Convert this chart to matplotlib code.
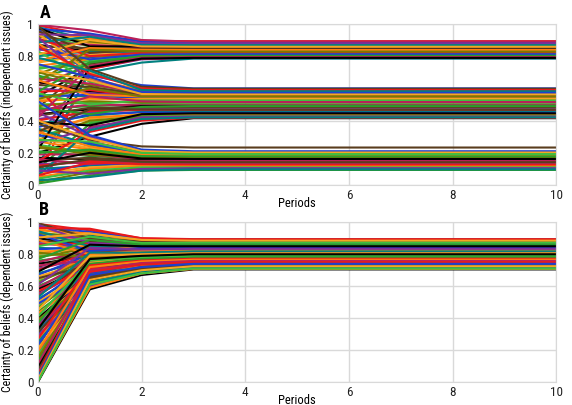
import matplotlib
matplotlib.use("Agg")
from matplotlib import pyplot as plt
import numpy as np

plt.rcParams['font.family'] = ['Roboto Condensed', 'Liberation Sans Narrow', 'Roboto', 'DejaVu Sans']

periods = list(range(11))

# panel A (independent issues): value at period 0, 1, 2 and the settled value from period 3 on
a_p0 = [0.99, 0.98, 0.97, 0.96, 0.95, 0.93, 0.92, 0.90, 0.89, 0.87, 0.86, 0.84, 0.82, 0.80, 0.78, 0.76,
        0.74, 0.72, 0.69, 0.66, 0.62, 0.55, 0.48, 0.30, 0.05, 0.12,
        0.97, 0.94, 0.88, 0.83, 0.70, 0.68, 0.66, 0.64, 0.62, 0.60, 0.58, 0.56, 0.55, 0.53, 0.52, 0.50,
        0.49, 0.47, 0.46, 0.44, 0.43, 0.41, 0.40, 0.38, 0.36, 0.34, 0.32, 0.30, 0.28, 0.10, 0.03, 0.20,
        0.38, 0.45, 0.60, 0.35, 0.31, 0.29, 0.27, 0.25, 0.23, 0.21, 0.19, 0.17, 0.15, 0.13, 0.12, 0.10,
        0.08, 0.07, 0.05, 0.04, 0.02, 0.01]
a_p1 = [0.93, 0.90, 0.94, 0.88, 0.91, 0.86, 0.89, 0.84, 0.87, 0.83, 0.85, 0.82, 0.80, 0.83, 0.79, 0.81,
        0.78, 0.77, 0.80, 0.76, 0.74, 0.73, 0.75, 0.72, 0.72, 0.70,
        0.68, 0.70, 0.66, 0.64, 0.62, 0.60, 0.63, 0.58, 0.61, 0.57, 0.59, 0.55, 0.56, 0.53, 0.54, 0.51,
        0.52, 0.49, 0.50, 0.47, 0.48, 0.45, 0.46, 0.43, 0.44, 0.41, 0.42, 0.39, 0.40, 0.38, 0.36, 0.30,
        0.28, 0.30, 0.27, 0.25, 0.26, 0.23, 0.22, 0.20, 0.21, 0.18, 0.19, 0.16, 0.17, 0.14, 0.15, 0.12,
        0.13, 0.11, 0.10, 0.09, 0.08, 0.06]
a_p2 = [0.895, 0.88, 0.89, 0.87, 0.875, 0.86, 0.865, 0.85, 0.855, 0.845, 0.84, 0.835, 0.83, 0.825, 0.82, 0.815,
        0.81, 0.805, 0.80, 0.80, 0.795, 0.79, 0.80, 0.78, 0.785, 0.76,
        0.62, 0.60, 0.59, 0.585, 0.58, 0.575, 0.57, 0.565, 0.56, 0.555, 0.55, 0.545, 0.54, 0.535, 0.53, 0.52,
        0.51, 0.50, 0.495, 0.49, 0.48, 0.47, 0.465, 0.455, 0.45, 0.44, 0.435, 0.43, 0.425, 0.42, 0.41, 0.38,
        0.24, 0.21, 0.205, 0.20, 0.195, 0.19, 0.185, 0.175, 0.17, 0.165, 0.16, 0.155, 0.15, 0.145, 0.14, 0.135,
        0.13, 0.125, 0.12, 0.11, 0.10, 0.09]
a_end = [0.893, 0.88, 0.886, 0.87, 0.875, 0.862, 0.866, 0.852, 0.857, 0.846, 0.84, 0.835, 0.83, 0.826, 0.82, 0.815,
         0.81, 0.805, 0.80, 0.798, 0.795, 0.79, 0.80, 0.787, 0.79, 0.785,
         0.60, 0.595, 0.59, 0.585, 0.58, 0.575, 0.57, 0.565, 0.56, 0.555, 0.55, 0.545, 0.54, 0.535, 0.528, 0.52,
         0.512, 0.50, 0.494, 0.487, 0.48, 0.47, 0.463, 0.455, 0.448, 0.44, 0.435, 0.43, 0.424, 0.42, 0.418, 0.415,
         0.233, 0.205, 0.20, 0.195, 0.19, 0.186, 0.18, 0.175, 0.17, 0.165, 0.16, 0.155, 0.15, 0.145, 0.14, 0.135,
         0.13, 0.125, 0.118, 0.11, 0.10, 0.094]

# more panel A lines (the crossing ones)
a2_p0 = [0.995, 0.975, 0.955, 0.935, 0.91, 0.885, 0.85, 0.81, 0.77, 0.73, 0.64, 0.58, 0.42, 0.22,
         0.985, 0.915, 0.86, 0.79, 0.75, 0.71, 0.65, 0.57, 0.535, 0.48, 0.45, 0.39, 0.33, 0.26, 0.15, 0.06,
         0.52, 0.40, 0.33, 0.28, 0.24, 0.20, 0.16, 0.14, 0.11, 0.09, 0.06, 0.03]
a2_p1 = [0.96, 0.86, 0.82, 0.93, 0.80, 0.92, 0.78, 0.90, 0.85, 0.74, 0.84, 0.76, 0.74, 0.73,
         0.72, 0.65, 0.69, 0.71, 0.67, 0.65, 0.56, 0.50, 0.60, 0.44, 0.55, 0.37, 0.47, 0.35, 0.33, 0.34,
         0.31, 0.29, 0.24, 0.27, 0.19, 0.22, 0.13, 0.20, 0.16, 0.07, 0.14, 0.05]
a2_p2 = [0.90, 0.86, 0.84, 0.88, 0.82, 0.87, 0.81, 0.86, 0.84, 0.79, 0.83, 0.80, 0.79, 0.785,
         0.61, 0.58, 0.60, 0.59, 0.575, 0.565, 0.55, 0.525, 0.55, 0.485, 0.52, 0.44, 0.47, 0.42, 0.40, 0.41,
         0.22, 0.21, 0.19, 0.20, 0.17, 0.18, 0.15, 0.165, 0.145, 0.10, 0.13, 0.09]
a2_end = [0.89, 0.86, 0.842, 0.878, 0.822, 0.868, 0.812, 0.858, 0.838, 0.792, 0.828, 0.802, 0.794, 0.789,
          0.598, 0.578, 0.59, 0.582, 0.572, 0.562, 0.548, 0.525, 0.55, 0.49, 0.515, 0.445, 0.468, 0.425, 0.418, 0.42,
          0.21, 0.202, 0.188, 0.192, 0.172, 0.178, 0.152, 0.162, 0.142, 0.105, 0.128, 0.098]

# panel B (dependent issues)
b_p0 = [0.99, 0.98, 0.97, 0.96, 0.95, 0.94, 0.93, 0.92, 0.91, 0.90, 0.88, 0.87, 0.86, 0.84, 0.83, 0.82,
        0.80, 0.79, 0.78, 0.76, 0.75, 0.74, 0.72, 0.71, 0.70, 0.68, 0.67, 0.66, 0.64, 0.63, 0.62, 0.60,
        0.59, 0.58, 0.56, 0.55, 0.54, 0.52, 0.51, 0.50, 0.48, 0.47, 0.46, 0.44, 0.42, 0.40, 0.38, 0.36,
        0.34, 0.32, 0.30, 0.28, 0.26, 0.24, 0.22, 0.20, 0.18, 0.16, 0.14, 0.12, 0.10, 0.08, 0.06, 0.05,
        0.04, 0.03, 0.02, 0.01, 0.005, 0.0]
b_p1 = [0.95, 0.92, 0.94, 0.90, 0.93, 0.89, 0.91, 0.87, 0.90, 0.86, 0.88, 0.84, 0.87, 0.83, 0.85, 0.82,
        0.86, 0.81, 0.84, 0.80, 0.83, 0.79, 0.82, 0.78, 0.81, 0.77, 0.80, 0.76, 0.79, 0.75, 0.78, 0.74,
        0.77, 0.73, 0.76, 0.72, 0.75, 0.71, 0.74, 0.70, 0.73, 0.69, 0.72, 0.68, 0.71, 0.67, 0.70, 0.66,
        0.69, 0.68, 0.72, 0.67, 0.70, 0.66, 0.74, 0.65, 0.69, 0.64, 0.71, 0.66, 0.63, 0.68, 0.62, 0.75,
        0.65, 0.61, 0.63, 0.70, 0.62, 0.58]
b_p2 = [0.90, 0.89, 0.895, 0.88, 0.885, 0.87, 0.875, 0.865, 0.86, 0.855, 0.85, 0.845, 0.84, 0.838, 0.835, 0.83,
        0.84, 0.825, 0.83, 0.82, 0.822, 0.81, 0.815, 0.805, 0.81, 0.80, 0.80, 0.79, 0.795, 0.785, 0.785, 0.78,
        0.775, 0.77, 0.77, 0.76, 0.765, 0.755, 0.755, 0.75, 0.745, 0.74, 0.74, 0.73, 0.735, 0.725, 0.73, 0.72,
        0.72, 0.715, 0.745, 0.71, 0.73, 0.705, 0.76, 0.70, 0.72, 0.70, 0.74, 0.705, 0.69, 0.72, 0.685, 0.78,
        0.70, 0.68, 0.685, 0.74, 0.675, 0.67]
b_end = [0.895, 0.89, 0.887, 0.882, 0.878, 0.874, 0.87, 0.866, 0.862, 0.858, 0.855, 0.851, 0.848, 0.845, 0.842, 0.838,
         0.835, 0.832, 0.829, 0.826, 0.823, 0.82, 0.816, 0.812, 0.808, 0.804, 0.80, 0.796, 0.792, 0.788, 0.785, 0.782,
         0.778, 0.775, 0.772, 0.768, 0.765, 0.762, 0.758, 0.755, 0.752, 0.748, 0.745, 0.742, 0.74, 0.737, 0.735, 0.732,
         0.73, 0.728, 0.75, 0.726, 0.742, 0.724, 0.765, 0.722, 0.735, 0.72, 0.748, 0.725, 0.718, 0.738, 0.715, 0.79,
         0.722, 0.712, 0.714, 0.75, 0.71, 0.705]

# more panel B lines
b2_p0 = [0.995, 0.985, 0.965, 0.945, 0.925, 0.905, 0.89, 0.85, 0.81, 0.77, 0.73, 0.69, 0.65, 0.61, 0.57,
         0.53, 0.49, 0.45, 0.43, 0.41, 0.39, 0.37, 0.35, 0.33, 0.31, 0.29, 0.27, 0.25, 0.23, 0.21,
         0.19, 0.17, 0.15, 0.13, 0.11, 0.09, 0.07, 0.055, 0.045, 0.035, 0.025, 0.015, 0.008, 0.003]
b2_p1 = [0.90, 0.87, 0.96, 0.85, 0.82, 0.93, 0.80, 0.91, 0.78, 0.89, 0.76, 0.86, 0.73, 0.84, 0.71,
         0.81, 0.68, 0.79, 0.66, 0.76, 0.64, 0.74, 0.62, 0.77, 0.65, 0.60, 0.73, 0.63, 0.69, 0.61,
         0.72, 0.62, 0.67, 0.60, 0.70, 0.64, 0.66, 0.60, 0.69, 0.62, 0.67, 0.64, 0.59, 0.61]
b2_p2 = [0.88, 0.86, 0.90, 0.855, 0.84, 0.89, 0.82, 0.87, 0.81, 0.86, 0.80, 0.85, 0.78, 0.83, 0.765,
         0.81, 0.745, 0.80, 0.73, 0.78, 0.715, 0.77, 0.70, 0.79, 0.72, 0.69, 0.76, 0.705, 0.74, 0.69,
         0.755, 0.695, 0.72, 0.685, 0.745, 0.70, 0.71, 0.68, 0.735, 0.69, 0.72, 0.70, 0.68, 0.68]
b2_end = [0.884, 0.864, 0.892, 0.856, 0.84, 0.885, 0.826, 0.872, 0.814, 0.86, 0.806, 0.85, 0.79, 0.834, 0.776,
          0.818, 0.76, 0.806, 0.748, 0.79, 0.735, 0.78, 0.724, 0.80, 0.74, 0.716, 0.772, 0.728, 0.754, 0.715,
          0.766, 0.72, 0.738, 0.712, 0.758, 0.724, 0.73, 0.71, 0.75, 0.716, 0.74, 0.725, 0.708, 0.71]

line_colors = ['#e8191c', '#2a9d2a', '#1c3fcf', '#000000', '#ff7f0e', '#7d2f9a',
               '#7a7a00', '#00807f', '#b8205a', '#f5a623', '#5a3d1e', '#3fbf3f']


def tracks(p0, p1, p2, end):
    rows = []
    for v0, v1, v2, v3 in zip(p0, p1, p2, end):
        rows.append([v0, v1, v2] + [v3] * (len(periods) - 3))
    return rows


fig = plt.figure(figsize=(5.72, 4.05), dpi=100)
ax_a = fig.add_axes([0.0664, 0.543, 0.906, 0.398])
ax_b = fig.add_axes([0.0664, 0.057, 0.906, 0.394])

rows_a = tracks(a_p0 + a2_p0, a_p1 + a2_p1, a_p2 + a2_p2, a_end + a2_end)
rows_b = tracks(b_p0 + b2_p0, b_p1 + b2_p1, b_p2 + b2_p2, b_end + b2_end)

panels = [(ax_a, rows_a, 'Certainty of beliefs (independent issues)', 'A', 0.99),
          (ax_b, rows_b, 'Certainty of beliefs (dependent issues)', 'B', 0.503)]

for ax, rows, ylab, letter, ytop in panels:
    for i, row in enumerate(rows):
        ax.plot(periods, row, color=line_colors[(i * 7) % len(line_colors)], lw=1.5, zorder=2)
    ax.set_xlim(0, 10)
    ax.set_ylim(0, 1)
    ax.set_xticks([0, 2, 4, 6, 8, 10])
    ax.set_yticks([0, 0.2, 0.4, 0.6, 0.8, 1])
    ax.set_yticklabels(['0', '0.2', '0.4', '0.6', '0.8', '1'])
    ax.grid(True, color='#d9d9d9', lw=1, zorder=0)
    ax.set_axisbelow(True)
    for s in ax.spines.values():
        s.set_color('#d9d9d9')
    ax.tick_params(length=0, labelsize=9.5, pad=3, colors='#222222')
    ax.set_xlabel('Periods', fontsize=9, labelpad=-4)
    ax.set_ylabel(ylab, fontsize=8.5, labelpad=2)
    fig.text(0.069, ytop, letter, fontsize=13, fontweight='bold', va='top')

fig.savefig('out.png', dpi=100)
